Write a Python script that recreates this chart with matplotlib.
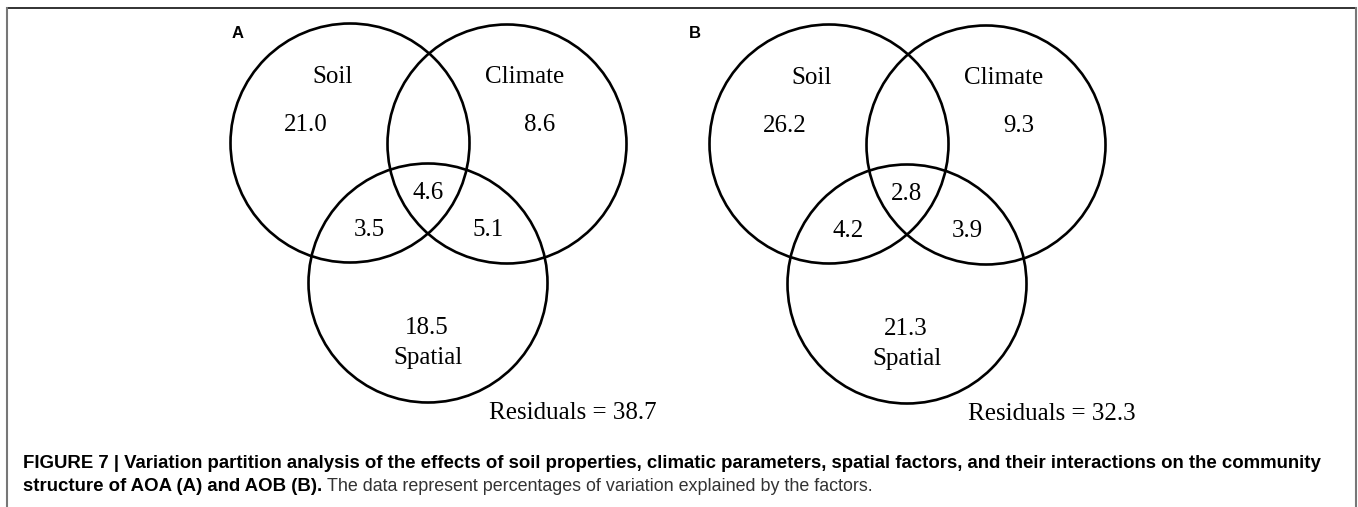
import matplotlib
matplotlib.use("Agg")
import matplotlib.pyplot as plt
from matplotlib.patches import Circle
from matplotlib.lines import Line2D

# data: variation partitioning (%), panels A (AOA) and B (AOB)
panels = ["A", "B"]
factors = ["Soil", "Climate", "Spatial"]
only_soil = [21.0, 26.2]
only_climate = [8.6, 9.3]
only_spatial = [18.5, 21.3]
soil_spatial = [3.5, 4.2]
climate_spatial = [5.1, 3.9]
all_three = [4.6, 2.8]
residuals = [38.7, 32.3]

W, H = 1358, 507
fig = plt.figure(figsize=(W / 100, H / 100), dpi=100)
ax = fig.add_axes([0, 0, 1, 1])
ax.set_xlim(0, W)
ax.set_ylim(H, 0)
ax.axis("off")

# layout (pixels)
origins = [(350, 143), (829, 144)]
letter_dx = [-118, -140]
R = 119.5
circle_off = [(0, 0), (157, 1), (78, 140)]
serif = ["Liberation Serif", "DejaVu Serif"]
fs = 18

for i, p in enumerate(panels):
    ox, oy = origins[i]
    for dx, dy in circle_off:
        ax.add_patch(Circle((ox + dx, oy + dy), R, fill=False, ec="black", lw=1.9))
    ax.text(ox + letter_dx[i], oy - 110, p, family="Liberation Sans", weight="bold",
            fontsize=12, ha="left", va="center")
    lab = dict(family=serif, fontsize=fs, ha="center", va="center")
    ax.text(ox - 17, oy - 66, factors[0], **lab)
    ax.text(ox + 175, oy - 66, factors[1], **lab)
    ax.text(ox + 78, oy + 215, factors[2], **lab)
    ax.text(ox - 44, oy - 18, f"{only_soil[i]:.1f}", **lab)
    ax.text(ox + 190, oy - 18, f"{only_climate[i]:.1f}", **lab)
    ax.text(ox + 78, oy + 50, f"{all_three[i]:.1f}", **lab)
    ax.text(ox + 19, oy + 87, f"{soil_spatial[i]:.1f}", **lab)
    ax.text(ox + 138, oy + 87, f"{climate_spatial[i]:.1f}", **lab)
    ax.text(ox + 77, oy + 185, f"{only_spatial[i]:.1f}", **lab)
    ax.text(ox + 223, oy + 270, f"Residuals = {residuals[i]:.1f}", **lab)

# frame
fig.add_artist(Line2D([7 / W, 1356 / W], [1 - 8 / H, 1 - 8 / H], color="#222222", lw=1.3))
fig.add_artist(Line2D([7 / W, 7 / W], [0, 1 - 8 / H], color="#777777", lw=1.5))
fig.add_artist(Line2D([1356 / W, 1356 / W], [0, 1 - 8 / H], color="#777777", lw=1.5))

# caption
cap = dict(family=["Liberation Sans", "DejaVu Sans"], va="baseline", ha="left")
ax.text(23, 468, "FIGURE 7 | Variation partition analysis of the effects of soil properties, "
        "climatic parameters, spatial factors, and their interactions on the community",
        weight="bold", fontsize=13.4, **cap)
t1 = ax.text(23, 491, "structure of AOA (A) and AOB (B).", weight="bold", fontsize=13.4, **cap)
fig.canvas.draw()
bb = t1.get_window_extent().transformed(ax.transData.inverted())
ax.text(bb.x1 + 5, 491, "The data represent percentages of variation explained by the factors.",
        color="#333333", fontsize=12.9, **cap)

fig.savefig("out.png", dpi=100)
